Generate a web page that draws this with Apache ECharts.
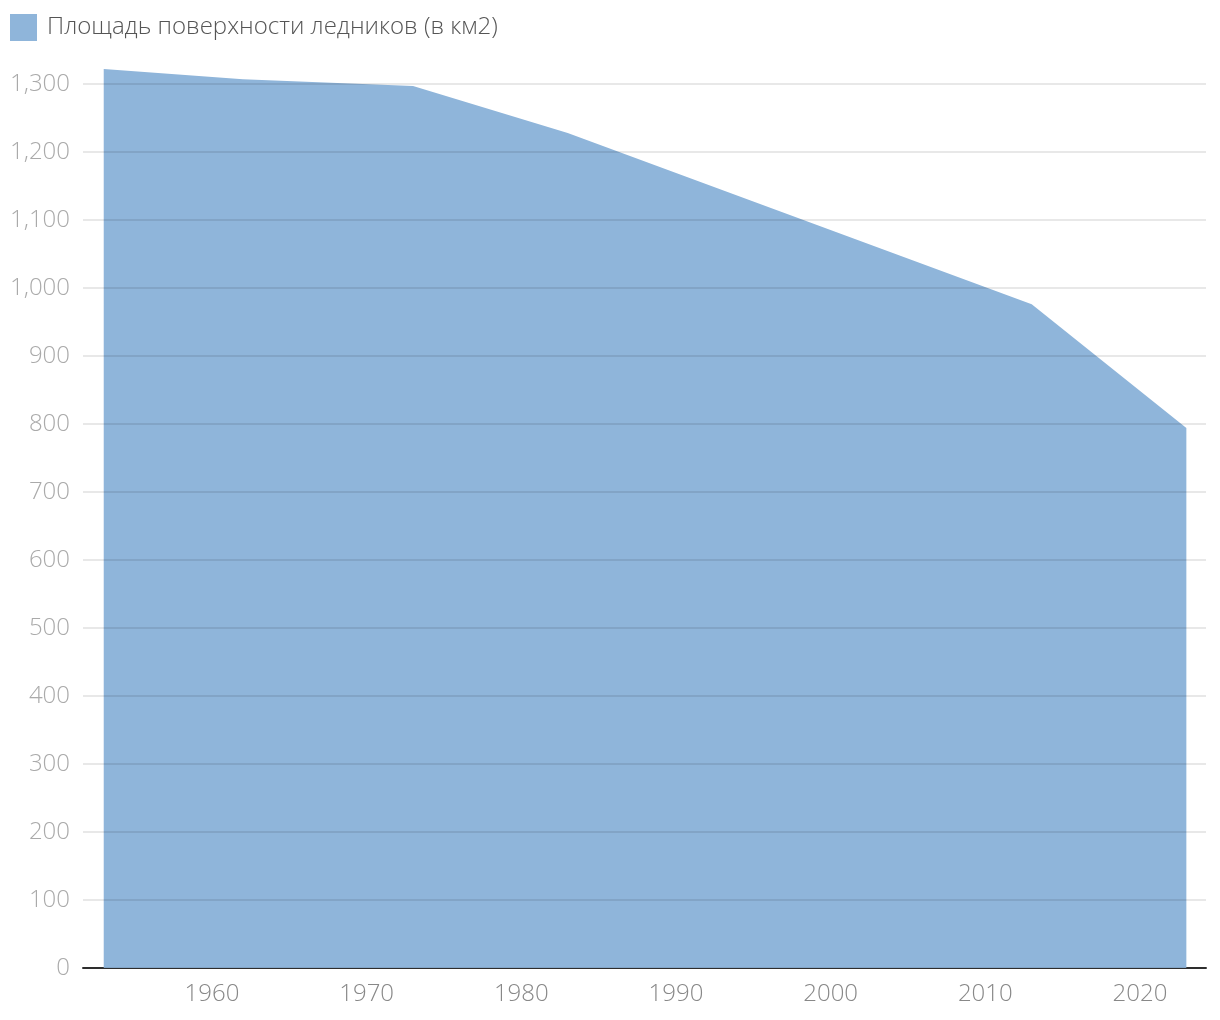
<!DOCTYPE html>
<html>
<head>
<meta charset="utf-8">
<script src="https://cdn.jsdelivr.net/npm/echarts@6/dist/echarts.min.js"></script>
<style>
html,body{margin:0;padding:0;background:#fff;}
#c{width:1220px;height:1020px;}
</style>
</head>
<body>
<div id="c"></div>
<script>
const seriesName = 'Площадь поверхности ледников (в км2)';
const years = [1953, 1962, 1973, 1983, 2013, 2023];
const areaValues = [1322, 1307, 1297, 1228, 976, 794];
const yTicks = [0, 100, 200, 300, 400, 500, 600, 700, 800, 900, 1000, 1100, 1200, 1300];

const data = years.map((y, i) => [y, areaValues[i]]);
const chart = echarts.init(document.getElementById('c'));
chart.setOption({
  animation: false,
  backgroundColor: '#fff',
  textStyle: { fontFamily: 'Open Sans' },
  legend: {
    left: 10, top: 14, padding: 0,
    itemWidth: 27, itemHeight: 27, itemGap: 10,
    icon: 'rect',
    textStyle: { fontSize: 24, color: '#555', fontWeight: 300, fontFamily: 'Open Sans', padding: [0, 0, 0, 5] },
    data: [seriesName]
  },
  grid: { left: 83, right: 14, top: 84, bottom: 52, containLabel: false },
  xAxis: {
    type: 'value',
    min: 1951.66, max: 2024.27,
    splitNumber: 7,
    axisLine: { show: true, lineStyle: { color: '#333', width: 2 } },
    axisTick: { show: false },
    splitLine: { show: false },
    axisLabel: {
      fontSize: 24, color: '#888', margin: 14, fontFamily: 'Open Sans', fontWeight: 300,
      showMinLabel: false, showMaxLabel: false,
      formatter: v => (Math.abs(v % 10) < 1e-6 ? String(Math.round(v)) : '')
    }
  },
  yAxis: {
    type: 'value',
    min: yTicks[0], max: yTicks[yTicks.length - 1], interval: 100,
    z: 5,
    axisLine: { show: false },
    axisTick: { show: false },
    splitLine: { show: true, lineStyle: { color: 'rgba(0,0,0,0.09)', width: 2 } },
    axisLabel: { fontSize: 24, color: '#aaa', margin: 13, fontFamily: 'Open Sans', fontWeight: 300 }
  },
  series: [{
    name: seriesName,
    type: 'line',
    data: data,
    clip: false,
    showSymbol: false,
    symbol: 'none',
    lineStyle: { width: 0, color: '#8fb5da' },
    itemStyle: { color: '#8fb5da' },
    areaStyle: { color: '#8fb5da', opacity: 1 },
    z: 2
  }]
});
</script>
</body>
</html>
